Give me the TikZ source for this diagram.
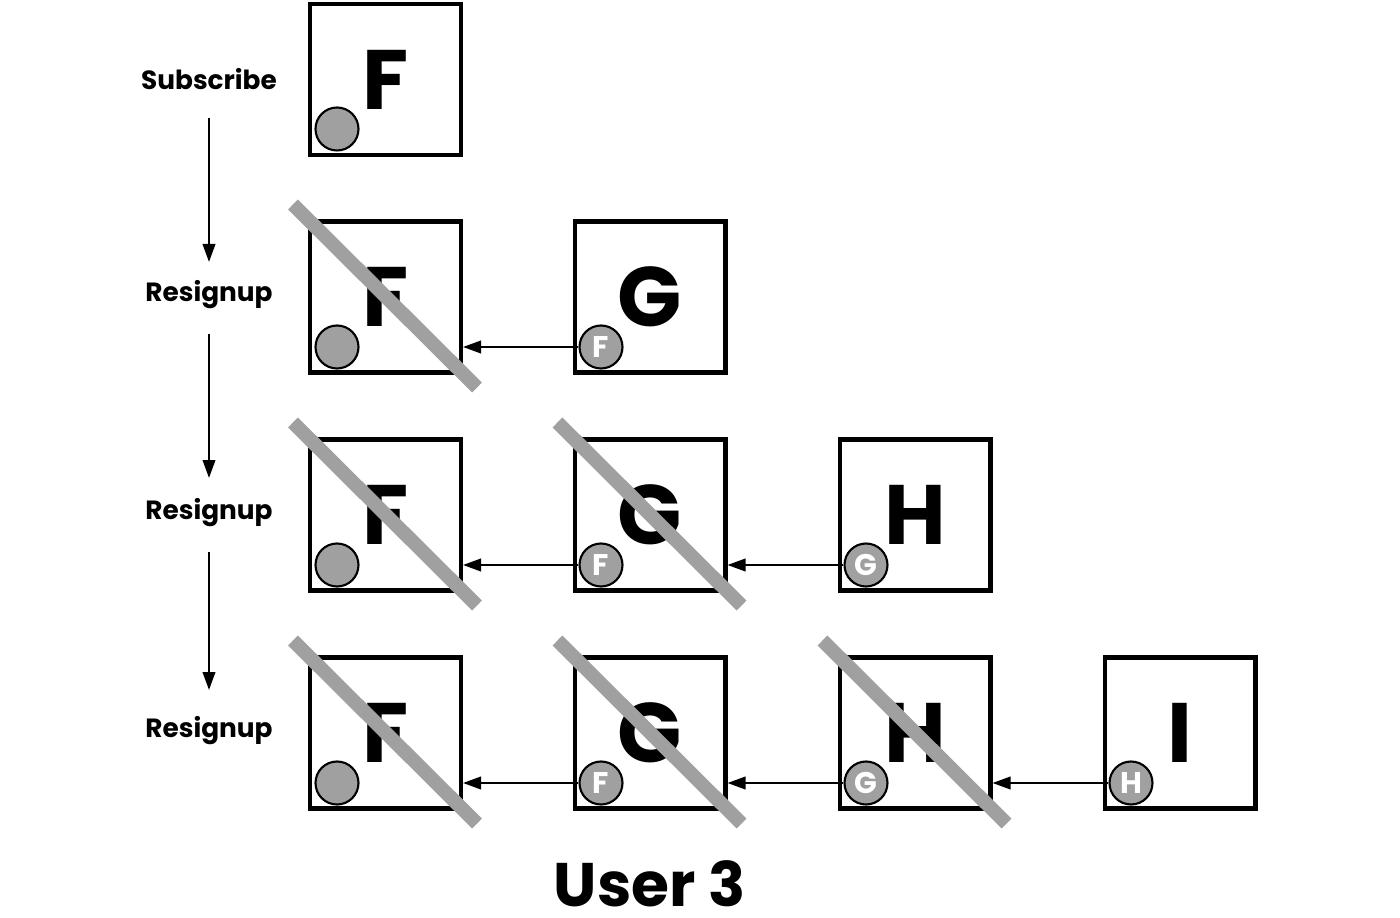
\documentclass[tikz,border=0pt]{standalone}
\usepackage{fontspec}
\setmainfont{Poppins}
\usetikzlibrary{arrows.meta,calc}
\definecolor{strikegray}{HTML}{A0A0A0}
\begin{document}
\begin{tikzpicture}[x=0.02cm,y=-0.02cm,
  box/.style={draw=black,line width=2.3pt,minimum size=3.02cm,inner sep=0pt,font=\fontsize{48}{48}\selectfont\bfseries},
  dot/.style={circle,draw=black,line width=1.2pt,fill=strikegray,minimum size=0.86cm,inner sep=0pt,text=white,font=\fontsize{17}{17}\selectfont\bfseries},
  arr/.style={line width=1.3pt,-{Triangle[length=0.36cm,width=0.25cm]}},
  strike/.style={line width=0.28cm,draw=strikegray},
  lbl/.style={font=\fontsize{15}{15}\selectfont\bfseries},
]
\useasboundingbox (0,0) rectangle (1400,918);
% labels
\node[lbl] (l1) at (209,79) {Subscribe};
\node[lbl] (l2) at (209,295) {Resignup};
\node[lbl] (l3) at (209,513) {Resignup};
\node[lbl] (l4) at (209,731) {Resignup};
\draw[arr] ($(l1)+(0,39)$) -- ($(l2)+(0,-33)$);
\draw[arr] ($(l2)+(0,39)$) -- ($(l3)+(0,-35)$);
\draw[arr] ($(l3)+(0,39)$) -- ($(l4)+(0,-41)$);
% row 1
\node[box] (b11) at (385.5,79.5) {F};
\node[dot] (c11) at (337,129) {};
% row 2
\node[box] (b21) at (385.5,297) {F};
\node[dot] (c21) at (337,347) {};
\node[box] (b22) at (650,297) {G};
\node[dot] (c22) at (601,347) {F};
% row 3
\node[box] (b31) at (385.5,515) {F};
\node[dot] (c31) at (337,565) {};
\node[box] (b32) at (650,515) {G};
\node[dot] (c32) at (601,565) {F};
\node[box] (b33) at (915,515) {H};
\node[dot] (c33) at (866,565) {G};
% row 4
\node[box] (b41) at (385.5,733) {F};
\node[dot] (c41) at (337,783) {};
\node[box] (b42) at (650,733) {G};
\node[dot] (c42) at (601,783) {F};
\node[box] (b43) at (915,733) {H};
\node[dot] (c43) at (866,783) {G};
\node[box] (b44) at (1180,733) {I};
\node[dot] (c44) at (1131,783) {H};
% strikes
\foreach \b in {b21,b31,b32,b41,b42,b43}{
  \draw[strike] ($(\b.north west)+(-15,-15)$) -- ($(\b.south east)+(14,13)$);
}
% arrows
\draw[arr] (c22.west) -- (b21.east |- c22);
\draw[arr] (c32.west) -- (b31.east |- c32);
\draw[arr] (c33.west) -- (b32.east |- c33);
\draw[arr] (c42.west) -- (b41.east |- c42);
\draw[arr] (c43.west) -- (b42.east |- c43);
\draw[arr] (c44.west) -- (b43.east |- c44);
% title
\node[font=\fontsize{35}{35}\selectfont\bfseries,inner sep=0pt,anchor=base] (title) at (650,906) {User 3};
\end{tikzpicture}
\end{document}
